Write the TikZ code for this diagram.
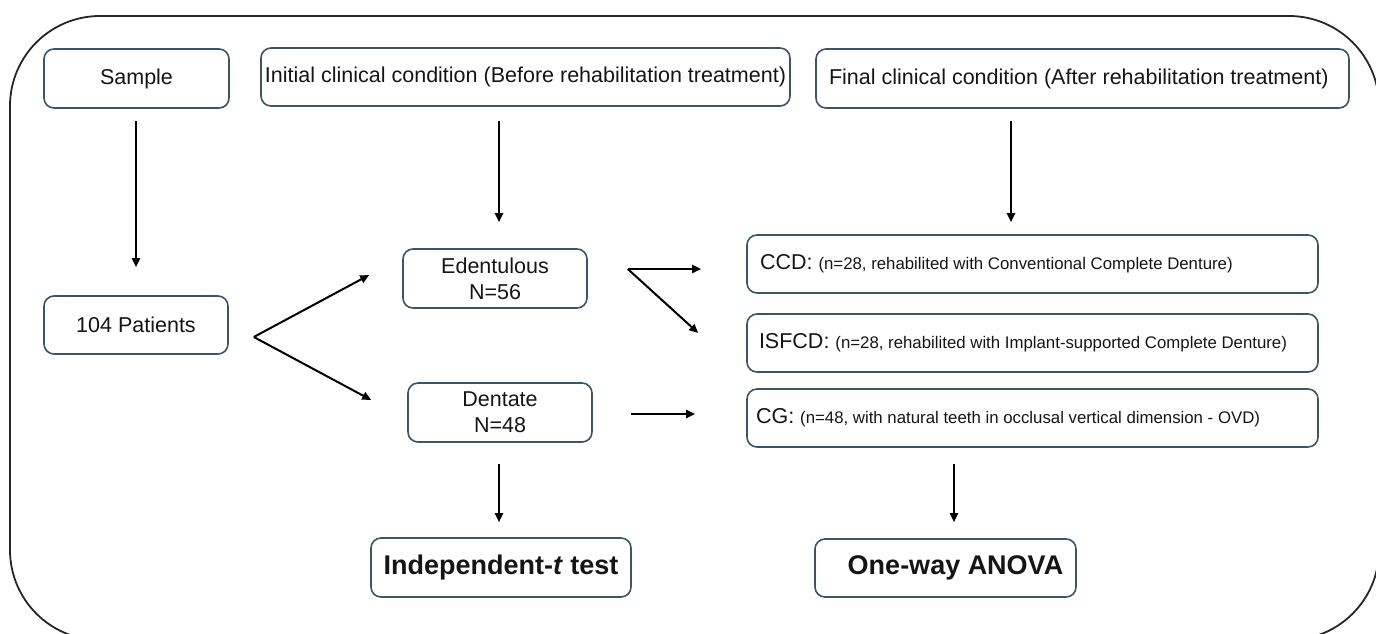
\documentclass[tikz,border=0pt]{standalone}
\usepackage{fontspec}
\setmainfont{Liberation Sans}
\usetikzlibrary{arrows.meta,calc}
\definecolor{bx}{HTML}{3B5568}
\definecolor{tx}{HTML}{151515}
\newcommand{\smalltxt}[1]{{\fontsize{16.8}{20}\selectfont #1}}
\begin{document}
\begin{tikzpicture}[x=1pt,y=-1pt,
  box/.style={draw=bx, line width=1.6pt, rounded corners=10pt, rectangle,
    inner sep=0pt, align=center, text=tx, font=\fontsize{21.5}{26}\selectfont},
  boldbox/.style={box, font=\fontsize{27}{30}\selectfont\bfseries},
  arr/.style={draw=black, line width=2pt, -{Triangle[length=9pt,width=8pt]}},
  frame/.style={draw=black!85, line width=1.8pt, rounded corners=90pt}]
\useasboundingbox (0,0) rectangle (1376,633);
\begin{scope}
  \clip (0,0) rectangle (1376,633);
  \draw[frame] (10,16) rectangle (1379,640);
\end{scope}

% top row
\node[box, minimum width=185pt, minimum height=59pt] (sample) at (136.5,78.5) {Sample};
\node[box, minimum width=529pt, minimum height=58pt] (initial) at (525.5,77) {Initial clinical condition (Before rehabilitation treatment)};
\node[box, minimum width=533pt, minimum height=59pt] (final) at (1082.5,78.5) {\makebox[507pt][l]{Final clinical condition (After rehabilitation treatment)}};

% middle
\node[box, minimum width=184pt, minimum height=58pt] (patients) at (136,325) {104 Patients};
\node[box, minimum width=184pt, minimum height=59pt] (edent) at (495,278.5) {Edentulous\\N=56};
\node[box, minimum width=184pt, minimum height=59pt] (dentate) at (500,412.5) {Dentate\\N=48};

\node[box, minimum width=571pt, minimum height=58pt] (ccd) at (1032.5,264) {\makebox[545pt][l]{CCD: \smalltxt{(n=28, rehabilited with Conventional Complete Denture)}}};
\node[box, minimum width=571pt, minimum height=58pt] (isfcd) at (1032.5,343) {\makebox[547pt][l]{ISFCD: \smalltxt{(n=28, rehabilited with Implant-supported Complete Denture)}}};
\node[box, minimum width=571pt, minimum height=58pt] (cg) at (1032.5,418) {\makebox[553pt][l]{CG: \smalltxt{(n=48, with natural teeth in occlusal vertical dimension - OVD)}}};

% bottom
\node[boldbox, minimum width=260pt, minimum height=59pt] (indep) at (501,567.5) {Independent-\textit{t} test};
\node[boldbox, minimum width=261pt, minimum height=58pt] (anova) at (945.5,568) {\hspace*{20pt}One-way ANOVA};

% arrows
\draw[arr] ($(sample.south)+(-0.5,12)$) -- ($(patients.north)+(0,-28)$);
\draw[arr] ($(initial.south -| edent.north)+(4,14)$) -- ($(edent.north)+(4,-26)$);
\draw[arr] ($(final.south)+(-71.5,12)$) -- ($(ccd.north)+(-21.5,-12)$);

\coordinate (pfork) at ($(patients.east)+(25,12)$);
\draw[arr] (pfork) -- ($(edent.west)+(-33,-3.5)$);
\draw[arr] (pfork) -- ($(dentate.west)+(-36,-12.5)$);

\coordinate (efork) at ($(edent.east)+(40,-9.5)$);
\draw[arr] (efork) -- ($(ccd.west)+(-45,5)$);
\draw[arr] (efork) -- ($(isfcd.west)+(-48,-10)$);

\draw[arr] ($(dentate.east)+(38,1.5)$) -- ($(cg.west)+(-51,-4)$);

\draw[arr] ($(dentate.south)+(-1,21)$) -- ($(indep.north)+(-2,-15)$);
\draw[arr] ($(cg.south)+(-78.5,16)$) -- ($(anova.north)+(8.5,-16)$);
\end{tikzpicture}
\end{document}
